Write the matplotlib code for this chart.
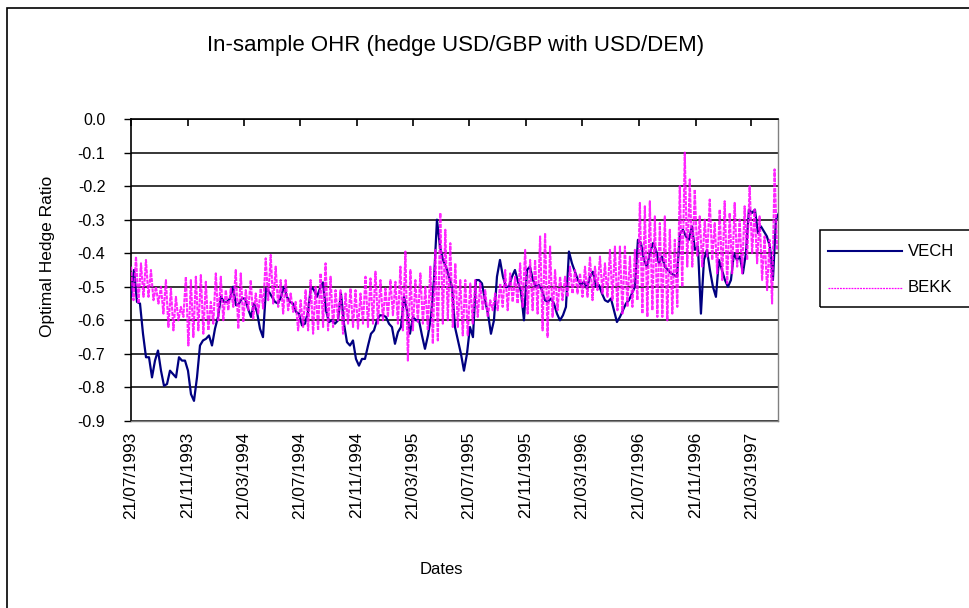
import matplotlib
matplotlib.use("Agg")
import matplotlib.pyplot as plt
from matplotlib.patches import Rectangle
from matplotlib.lines import Line2D
import pandas as pd
import numpy as np

plt.rcParams['font.family'] = ['Liberation Sans', 'DejaVu Sans']

title = "In-sample OHR (hedge USD/GBP with USD/DEM)"
series_names = ["VECH", "BEKK"]
start_date = "1993-07-21"
end_date = "1997-05-18"

x_tick_labels = ["21/07/1993", "21/11/1993", "21/03/1994", "21/07/1994",
                 "21/11/1994", "21/03/1995", "21/07/1995", "21/11/1995",
                 "21/03/1996", "21/07/1996", "21/11/1996", "21/03/1997"]
y_tick_labels = ["0.0", "-0.1", "-0.2", "-0.3", "-0.4", "-0.5", "-0.6",
                 "-0.7", "-0.8", "-0.9"]

vech = [
    -0.53, -0.45, -0.545, -0.55, -0.64, -0.71, -0.71, -0.77, -0.72, -0.69,
    -0.75, -0.795, -0.79, -0.75, -0.76, -0.77, -0.71, -0.72, -0.72, -0.75,
    -0.82, -0.84, -0.77, -0.675, -0.66, -0.655, -0.645, -0.675, -0.625, -0.59,
    -0.53, -0.545, -0.545, -0.535, -0.50, -0.555, -0.55, -0.535, -0.535, -0.565,
    -0.59, -0.55, -0.575, -0.625, -0.65, -0.505, -0.515, -0.53, -0.545, -0.55,
    -0.53, -0.50, -0.53, -0.545, -0.55, -0.575, -0.58, -0.615, -0.61, -0.575,
    -0.50, -0.51, -0.53, -0.505, -0.487, -0.57, -0.605, -0.60, -0.61, -0.60,
    -0.52, -0.61, -0.665, -0.675, -0.66, -0.715, -0.735, -0.715, -0.715, -0.676,
    -0.64, -0.63, -0.60, -0.585, -0.585, -0.59, -0.61, -0.62, -0.67, -0.635,
    -0.62, -0.53, -0.57, -0.64, -0.59, -0.60, -0.60, -0.645, -0.685, -0.645,
    -0.59, -0.48, -0.30, -0.38, -0.42, -0.44, -0.47, -0.50, -0.62, -0.66,
    -0.70, -0.75, -0.70, -0.62, -0.65, -0.48, -0.48, -0.49, -0.54, -0.58,
    -0.64, -0.60, -0.47, -0.42, -0.47, -0.50, -0.50, -0.47, -0.45, -0.485,
    -0.515, -0.60, -0.45, -0.44, -0.48, -0.50, -0.495, -0.51, -0.54, -0.545,
    -0.535, -0.55, -0.58, -0.60, -0.585, -0.56, -0.395, -0.43, -0.455, -0.48,
    -0.495, -0.485, -0.505, -0.47, -0.455, -0.50, -0.495, -0.52, -0.54, -0.545,
    -0.535, -0.57, -0.605, -0.59, -0.57, -0.55, -0.54, -0.52, -0.50, -0.36,
    -0.37, -0.42, -0.44, -0.40, -0.37, -0.39, -0.43, -0.41, -0.44, -0.45,
    -0.46, -0.465, -0.47, -0.34, -0.33, -0.35, -0.36, -0.32, -0.39, -0.38,
    -0.58, -0.42, -0.39, -0.45, -0.50, -0.53, -0.42, -0.45, -0.48, -0.50,
    -0.48, -0.40, -0.42, -0.41, -0.46, -0.40, -0.27, -0.28, -0.27, -0.34,
    -0.32, -0.335, -0.35, -0.38, -0.48, -0.30, -0.28,
]

# BEKK oscillates rapidly: local highs and lows of the swings
bekk_high = [
    -0.44, -0.41, -0.43, -0.42, -0.45, -0.50, -0.50, -0.48, -0.505, -0.53,
    -0.56, -0.47, -0.48, -0.47, -0.465, -0.485, -0.545, -0.46, -0.47, -0.51,
    -0.505, -0.45, -0.46, -0.51, -0.48, -0.52, -0.505, -0.415, -0.405, -0.44,
    -0.48, -0.48, -0.52, -0.545, -0.54, -0.51, -0.48, -0.50, -0.46, -0.43,
    -0.47, -0.51, -0.51, -0.52, -0.505, -0.51, -0.52, -0.47, -0.475, -0.455,
    -0.48, -0.505, -0.48, -0.485, -0.44, -0.395, -0.45, -0.48, -0.46, -0.50,
    -0.44, -0.39, -0.28, -0.33, -0.37, -0.43, -0.48, -0.48, -0.49, -0.48,
    -0.49, -0.51, -0.54, -0.52, -0.49, -0.45, -0.46, -0.47, -0.43, -0.39,
    -0.42, -0.42, -0.35, -0.34, -0.38, -0.45, -0.47, -0.47, -0.44, -0.45,
    -0.46, -0.44, -0.41, -0.44, -0.41, -0.43, -0.39, -0.38, -0.38, -0.38,
    -0.41, -0.39, -0.25, -0.26, -0.245, -0.29, -0.31, -0.29, -0.33, -0.36,
    -0.20, -0.10, -0.18, -0.21, -0.29, -0.30, -0.24, -0.31, -0.27, -0.245,
    -0.28, -0.25, -0.30, -0.26, -0.20, -0.27, -0.29, -0.35, -0.36, -0.15,
]
bekk_low = [
    -0.54, -0.55, -0.53, -0.53, -0.54, -0.55, -0.58, -0.62, -0.63, -0.60,
    -0.59, -0.675, -0.65, -0.63, -0.64, -0.63, -0.61, -0.60, -0.60, -0.57,
    -0.56, -0.625, -0.605, -0.57, -0.595, -0.58, -0.565, -0.54, -0.55, -0.56,
    -0.58, -0.57, -0.575, -0.63, -0.62, -0.63, -0.64, -0.63, -0.62, -0.63,
    -0.62, -0.60, -0.64, -0.61, -0.62, -0.625, -0.61, -0.62, -0.61, -0.61,
    -0.60, -0.59, -0.585, -0.61, -0.63, -0.72, -0.63, -0.605, -0.61, -0.63,
    -0.67, -0.66, -0.61, -0.60, -0.62, -0.62, -0.645, -0.645, -0.61, -0.59,
    -0.57, -0.59, -0.57, -0.57, -0.56, -0.57, -0.545, -0.55, -0.56, -0.58,
    -0.57, -0.58, -0.63, -0.65, -0.59, -0.57, -0.54, -0.53, -0.52, -0.52,
    -0.53, -0.53, -0.54, -0.51, -0.52, -0.53, -0.54, -0.57, -0.58, -0.56,
    -0.56, -0.54, -0.58, -0.59, -0.57, -0.59, -0.59, -0.60, -0.58, -0.56,
    -0.50, -0.44, -0.44, -0.41, -0.44, -0.41, -0.42, -0.46, -0.48, -0.49,
    -0.46, -0.44, -0.46, -0.42, -0.40, -0.43, -0.48, -0.51, -0.55, -0.39,
]

# ---- build series ----
vech_dates = pd.date_range(start_date, "1997-05-20", periods=len(vech))
n = min(len(bekk_high), len(bekk_low))
bekk = []
for h, l in zip(bekk_high[:n], bekk_low[:n]):
    bekk.extend([h, l])
bekk_dates = pd.date_range(start_date, "1997-05-16", periods=len(bekk))

W, H = 969, 608
fig = plt.figure(figsize=(W / 100, H / 100), dpi=100)
fig.patch.set_facecolor("white")

ax = fig.add_axes([131 / W, 1 - 421 / H, 647 / W, 302 / H])
navy = "#000080"
magenta = "#FF00FF"
bekk_ls = (0, (2.0, 0.5))
ax.plot(vech_dates, vech, color=navy, lw=1.6, zorder=3)
ax.plot(bekk_dates, bekk, color=magenta, lw=1.5, ls=bekk_ls, alpha=0.85,
        zorder=4)

ax.set_ylim(-0.9, 0.0)
ax.set_xlim(pd.Timestamp(start_date), pd.Timestamp(end_date))
yt = [float(s) for s in y_tick_labels]
ax.set_yticks(yt, y_tick_labels)
xt = pd.to_datetime(x_tick_labels, dayfirst=True)
ax.set_xticks(xt, x_tick_labels)

ax.yaxis.grid(True, color="black", lw=1.1, zorder=1)
ax.set_axisbelow(True)
for s in ["top", "left"]:
    ax.spines[s].set_color("black")
    ax.spines[s].set_linewidth(1.2)
for s in ["right", "bottom"]:
    ax.spines[s].set_color("#808080")
    ax.spines[s].set_linewidth(1.0)

ax.tick_params(axis="x", bottom=False, top=True, labelbottom=True,
               labeltop=False, direction="in", length=5, width=1.2,
               pad=8, labelrotation=90, labelsize=12.5)
ax.tick_params(axis="y", direction="out", length=5, width=1.0, pad=13.5,
               labelsize=11.5)

# ---- texts ----
fig.text(456 / W, 1 - 45 / H, title, ha="center", va="center", fontsize=16)
fig.text(441 / W, 1 - 570 / H, "Dates", ha="center", va="center", fontsize=12)
fig.text(48 / W, 1 - 256 / H, "Optimal Hedge Ratio", ha="center", va="center",
         rotation=90, fontsize=12.5)

# ---- outer chart border ----
fig.patches.append(Rectangle((7 / W, -0.5), 2.0, 0.5 + (1 - 8 / H),
                             transform=fig.transFigure, fill=False,
                             ec="black", lw=1.2))

# ---- legend ----
fig.patches.append(Rectangle((820 / W, 1 - 307 / H), 0.5, 77 / H,
                             transform=fig.transFigure, fill=False,
                             ec="black", lw=1.1))
for i, (name, col) in enumerate(zip(series_names, [navy, magenta])):
    yy = 1 - (251 + 37 * i) / H
    if i == 0:
        fig.add_artist(Line2D([828 / W, 902 / W], [yy, yy], color=col, lw=1.5,
                              transform=fig.transFigure))
    else:
        fig.add_artist(Line2D([828 / W, 902 / W], [yy, yy], color=col, lw=0.9,
                              ls=(0, (1.5, 0.8)), transform=fig.transFigure))
    fig.text(908 / W, yy, name, ha="left", va="center", fontsize=12)

fig.savefig("out.png", dpi=100, facecolor="white")
